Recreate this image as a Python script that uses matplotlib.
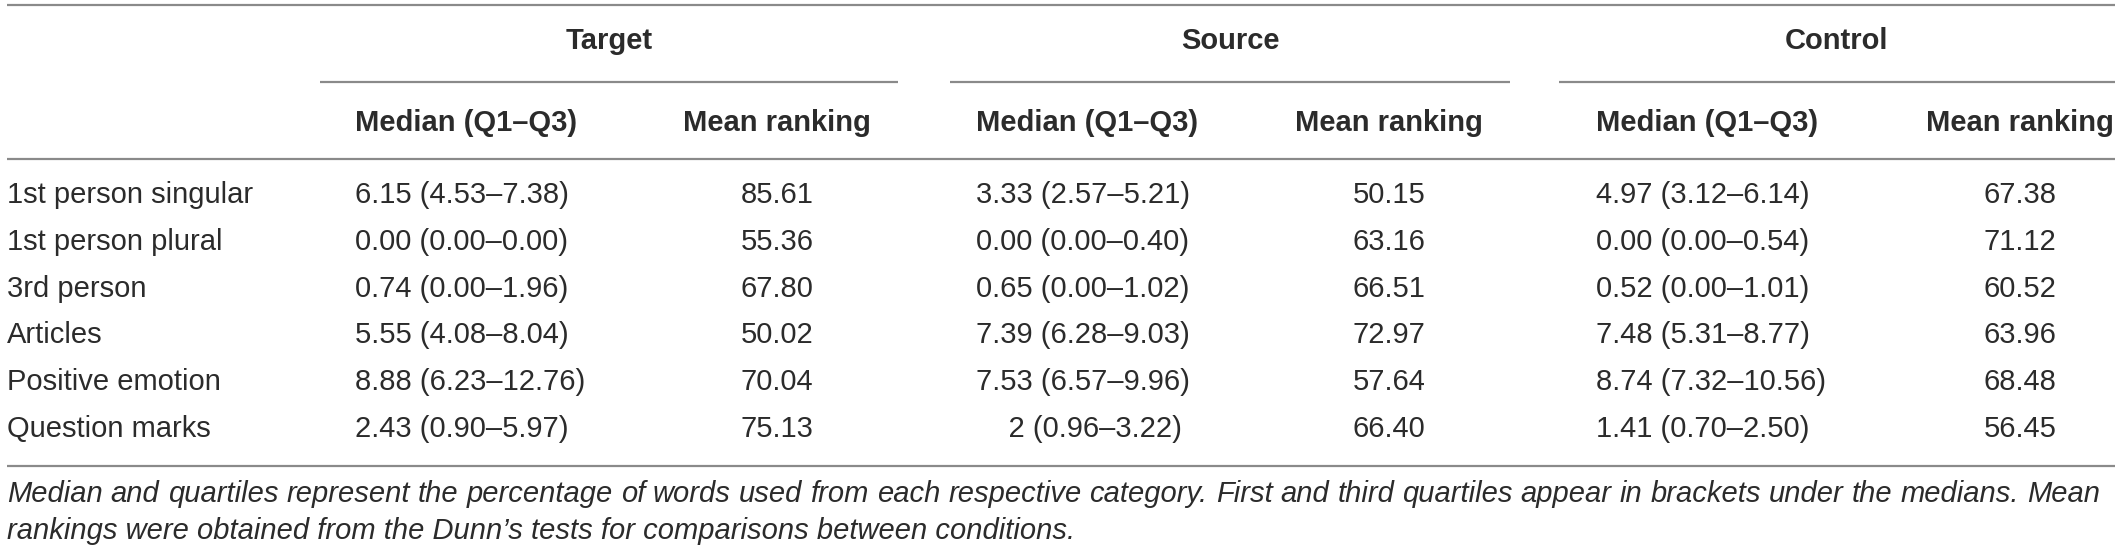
import numpy as np
import matplotlib as mpl
import matplotlib.pyplot as plt

plt.rcParams.update({
    'font.family': ['Liberation Sans', 'DejaVu Sans'],
})

# table content
groups = ["Target", "Source", "Control"]
subcols = ["Median (Q1\u2013Q3)", "Mean ranking"]
categories = ["1st person singular", "1st person plural", "3rd person",
              "Articles", "Positive emotion", "Question marks"]

target_median = ["6.15 (4.53\u20137.38)", "0.00 (0.00\u20130.00)", "0.74 (0.00\u20131.96)",
                 "5.55 (4.08\u20138.04)", "8.88 (6.23\u201312.76)", "2.43 (0.90\u20135.97)"]
target_rank = [85.61, 55.36, 67.80, 50.02, 70.04, 75.13]

source_median = ["3.33 (2.57\u20135.21)", "0.00 (0.00\u20130.40)", "0.65 (0.00\u20131.02)",
                 "7.39 (6.28\u20139.03)", "7.53 (6.57\u20139.96)", "    2 (0.96\u20133.22)"]
source_rank = [50.15, 63.16, 66.51, 72.97, 57.64, 66.40]

control_median = ["4.97 (3.12\u20136.14)", "0.00 (0.00\u20130.54)", "0.52 (0.00\u20131.01)",
                  "7.48 (5.31\u20138.77)", "8.74 (7.32\u201310.56)", "1.41 (0.70\u20132.50)"]
control_rank = [67.38, 71.12, 60.52, 63.96, 68.48, 56.45]

footnote = ["Median and quartiles represent the percentage of words used from each respective "
            "category. First and third quartiles appear in brackets under the medians. Mean",
            "rankings were obtained from the Dunn\u2019s tests for comparisons between conditions."]

# ==========================================================================================
# layout (pixel coordinates, y grows downward)
# ==========================================================================================
W, H = 2118, 552
fig = plt.figure(figsize=(W/100, H/100), dpi=100)
ax = fig.add_axes([0, 0, 1, 1])
ax.set_xlim(0, W)
ax.set_ylim(H, 0)
ax.axis('off')

fs = 21
txt_col = '#2b2b2b'
line_col = '#8a8a8a'

group_span = [(320, 898), (950, 1510), (1559, 2115)]
median_x = [355, 976, 1596]
rank_x = [777, 1389, 2020]

y_top, y_group, y_uline, y_sub, y_head = 5, 41, 82, 123, 159
row_y0, row_dy = 195, 46.8
y_bottom = 466
foot_y = [494, 531]
foot_x0, foot_x1 = 7, 2100

# rules
ax.hlines([y_top, y_head, y_bottom], 7, 2115, color=line_col, lw=1.6)
for (x0, x1) in group_span:
    ax.hlines(y_uline, x0, x1, color=line_col, lw=1.6)

# headers
for g, (x0, x1), mx, rx in zip(groups, group_span, median_x, rank_x):
    ax.text((x0 + x1)/2, y_group, g, ha='center', va='center', fontsize=fs,
            fontweight='bold', color=txt_col)
    ax.text(mx, y_sub, subcols[0], ha='left', va='center', fontsize=fs,
            fontweight='bold', color=txt_col)
    ax.text(rx, y_sub, subcols[1], ha='center', va='center', fontsize=fs,
            fontweight='bold', color=txt_col)

# body
medians = [target_median, source_median, control_median]
ranks = [target_rank, source_rank, control_rank]
for i, cat in enumerate(categories):
    y = row_y0 + i*row_dy
    ax.text(7, y, cat, ha='left', va='center', fontsize=fs, color=txt_col)
    for k in range(3):
        ax.text(median_x[k], y, medians[k][i], ha='left', va='center',
                fontsize=fs, color=txt_col)
        ax.text(rank_x[k], y, f"{ranks[k][i]:.2f}", ha='center', va='center',
                fontsize=fs, color=txt_col)

# footnote: first line justified word by word, last line left aligned
renderer = fig.canvas.get_renderer()
words = footnote[0].split(' ')
word_txt = [ax.text(0, foot_y[0], w, ha='left', va='center', fontsize=fs,
                    style='italic', color=txt_col) for w in words]
widths = [t.get_window_extent(renderer).width for t in word_txt]
gap = (foot_x1 - foot_x0 - sum(widths)) / (len(words) - 1)
x = foot_x0
for t, w in zip(word_txt, widths):
    t.set_x(x)
    x += w + gap
ax.text(foot_x0, foot_y[1], footnote[1], ha='left', va='center', fontsize=fs,
        style='italic', color=txt_col)

plt.savefig("out.png", dpi=100)
